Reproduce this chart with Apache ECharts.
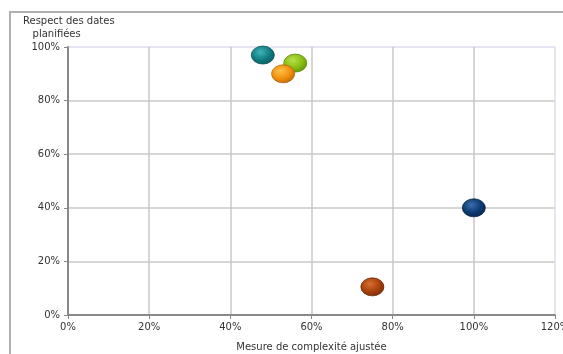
<!DOCTYPE html>
<html>
<head>
<meta charset="utf-8">
<script src="https://cdn.jsdelivr.net/npm/echarts@6/dist/echarts.min.js"></script>
<style>
  html, body { margin: 0; padding: 0; background: #fff; }
  #chart { width: 563px; height: 354px; }
</style>
</head>
<body>
<div id="chart"></div>
<script>
// Projects: adjusted complexity (x) vs. respect of planned dates (y), in %
const projectNames = ['P1', 'P2', 'P3', 'P4', 'P5'];
const complexity = [48, 56, 53, 100, 75];
const dateRespect = [97, 94, 90, 40, 10.5];
const pointColors = [
  ['#3fb4b8', '#0f7b80', '#0a5558'],
  ['#b8e04a', '#86bd14', '#5a8a08'],
  ['#ffc04a', '#f0900c', '#b86206'],
  ['#3a6ea8', '#0c3a70', '#06244a'],
  ['#d8702e', '#a8400e', '#6e2806']
];
const xTickMax = 120;
const yTickMax = 100;

const series = projectNames.map((name, i) => ({
  name: name,
  type: 'scatter',
  symbol: 'circle',
  symbolSize: [23, 18],
  z: 2 + i,
  itemStyle: {
    color: {
      type: 'radial', x: 0.4, y: 0.35, r: 0.75,
      colorStops: [
        { offset: 0, color: pointColors[i][0] },
        { offset: 0.55, color: pointColors[i][1] },
        { offset: 1, color: pointColors[i][2] }
      ]
    },
    borderColor: pointColors[i][2],
    borderWidth: 0.8,
    opacity: 1
  },
  data: [[complexity[i], dateRespect[i]]]
}));

const font = 'DejaVu Sans';
const chart = echarts.init(document.getElementById('chart'), null, { renderer: 'canvas' });
chart.setOption({
  animation: false,
  backgroundColor: '#ffffff',
  graphic: [
    { type: 'line', shape: { x1: 9, y1: 12, x2: 563, y2: 12 }, style: { stroke: '#b0b0b0', lineWidth: 2 }, z: 0 },
    { type: 'line', shape: { x1: 10, y1: 12, x2: 10, y2: 354 }, style: { stroke: '#b0b0b0', lineWidth: 2 }, z: 0 },
    {
      type: 'text', left: 23, top: 15, z: 10,
      style: { text: 'Respect des dates\n   planifiées', font: '10px "DejaVu Sans"', fill: '#333', lineHeight: 13 }
    }
  ],
  grid: { left: 68, top: 47, right: 8, bottom: 39, containLabel: false, outerBoundsMode: 'none' },
  xAxis: {
    type: 'value', min: 0, max: xTickMax, interval: 20,
    name: 'Mesure de complexité ajustée', nameLocation: 'middle', nameGap: 27,
    nameTextStyle: { fontFamily: font, fontSize: 10, color: '#333' },
    axisLine: { show: true, onZero: false, lineStyle: { color: '#888', width: 2 } },
    axisTick: { show: true, length: 4, lineStyle: { color: '#888' } },
    axisLabel: { formatter: '{value}%', fontFamily: font, fontSize: 10, color: '#333', margin: 7 },
    splitLine: { show: true, lineStyle: { color: ['#c8c8c8', '#c8c8c8', '#c8c8c8', '#c8c8c8', '#c8c8c8', '#c8c8c8', '#dcdcf2'], width: 1.5 } }
  },
  yAxis: {
    type: 'value', min: 0, max: yTickMax, interval: 20,
    axisLine: { show: true, onZero: false, lineStyle: { color: '#888', width: 2 } },
    axisTick: { show: true, length: 4, lineStyle: { color: '#888' } },
    axisLabel: { formatter: '{value}%', fontFamily: font, fontSize: 10, color: '#333', margin: 8 },
    splitLine: { show: true, lineStyle: { color: ['#c8c8c8', '#c8c8c8', '#c8c8c8', '#c8c8c8', '#c8c8c8', '#dcdcf2'], width: 1.5 } }
  },
  series: series
});
</script>
</body>
</html>
